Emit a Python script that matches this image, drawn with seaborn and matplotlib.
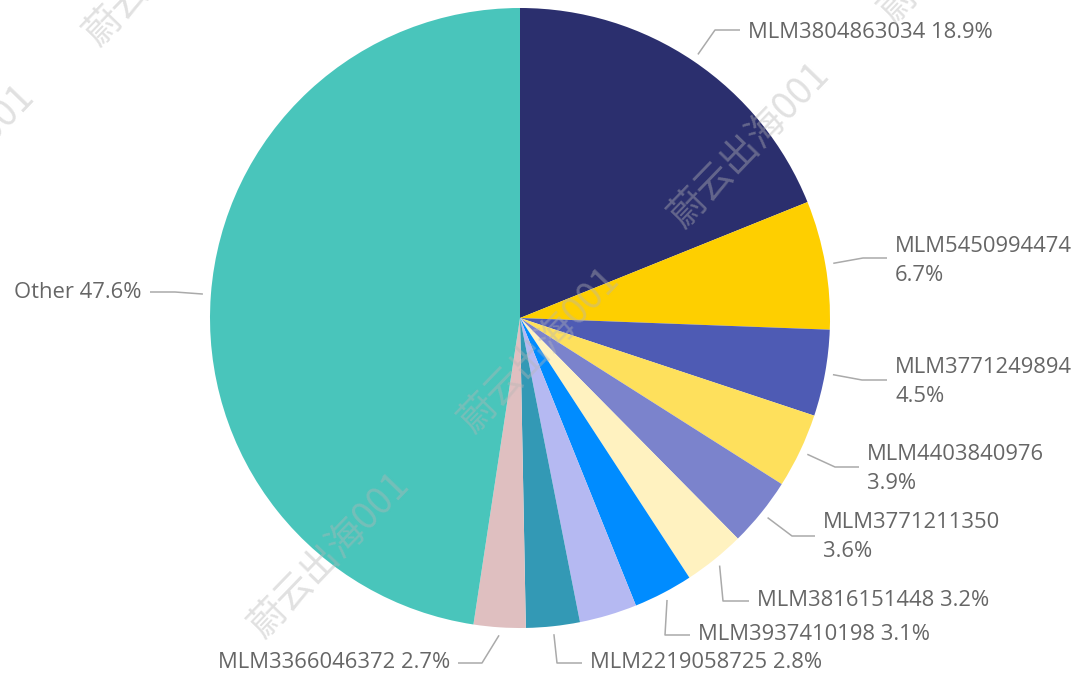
import numpy as np
import matplotlib
matplotlib.use("Agg")
import matplotlib.pyplot as plt
import seaborn as sns

# slice data (clockwise from 12 o'clock)
names = ["MLM3804863034", "MLM5450994474", "MLM3771249894", "MLM4403840976",
         "MLM3771211350", "MLM3816151448", "MLM3937410198", "",
         "MLM2219058725", "MLM3366046372", "Other"]
shares = [18.9, 6.7, 4.5, 3.9, 3.6, 3.2, 3.1, 3.0, 2.8, 2.7, 47.6]
colors = ["#2b2f6e", "#fecf00", "#4e5bb4", "#fee05c", "#7b83cc", "#fff2c0",
          "#008cff", "#b5b9f2", "#3399b5", "#dfbfc0", "#49c5bb"]

# label layout in pixels: (text x, text y, elbow x, elbow y, two lines?, side)
label_layout = [
    (748, 32, 715, 30, False, "r"),
    (895, 261, 863, 258, True, "r"),
    (895, 382, 862, 380, True, "r"),
    (867, 469, 835, 467, True, "r"),
    (823, 537, 792, 536, True, "r"),
    (757, 601, 723, 601, False, "r"),
    (698, 635, 665, 635, False, "r"),
    None,
    (590, 663, 557, 663, False, "r"),
    (450, 663, 482, 663, False, "l"),
    (142, 293, 175, 292, False, "l"),
]

W, H = 1077, 678
cx, cy, R = 520, 318, 310

sns.set_theme(style="white")
plt.rcParams["font.family"] = ["Open Sans", "DejaVu Sans"]

fig = plt.figure(figsize=(W / 100, H / 100), dpi=100)
ax = fig.add_axes([0, 0, 1, 1])
ax.axis("off")

ax.pie(shares, colors=colors, startangle=90, counterclock=False,
       center=(cx, H - cy), radius=R, wedgeprops=dict(linewidth=0))
ax.set_xlim(0, W)
ax.set_ylim(0, H)
ax.set_aspect("equal")

total = sum(shares)
cum = np.cumsum([0] + shares[:-1])
txt_color = "#666666"
for i, (name, val) in enumerate(zip(names, shares)):
    lay = label_layout[i]
    if lay is None:
        continue
    tx, ty, ex, ey, two, side = lay
    mid = (cum[i] + val / 2) / total * 2 * np.pi
    sx = cx + 318 * np.sin(mid)
    sy = cy - 318 * np.cos(mid)
    hx = tx - 8 if side == "r" else tx + 8
    ax.plot([sx, ex, hx], [H - sy, H - ey, H - ey], color="#aaaaaa", lw=1.1,
            solid_capstyle="butt")
    label = f"{name}\n{val:.1f}%" if two else f"{name} {val:.1f}%"
    ax.text(tx, H - ty, label, ha="left" if side == "r" else "right",
            va="center", fontsize=15.8, color=txt_color, linespacing=1.45)

# watermark tiles (partly off the canvas, as in the source)
wm_centers = [(330, 555), (540, 350), (750, 145), (960, -60), (165, -37), (-45, 167)]
for wx, wy in wm_centers:
    ax.text(wx, H - wy, "蔚云出海001", rotation=46, ha="center", va="center",
            fontsize=27, color=(182 / 255, 182 / 255, 182 / 255), alpha=0.41,
            family=["Noto Sans CJK SC", "DejaVu Sans"], rotation_mode="anchor")

fig.savefig("out.png", dpi=100)
